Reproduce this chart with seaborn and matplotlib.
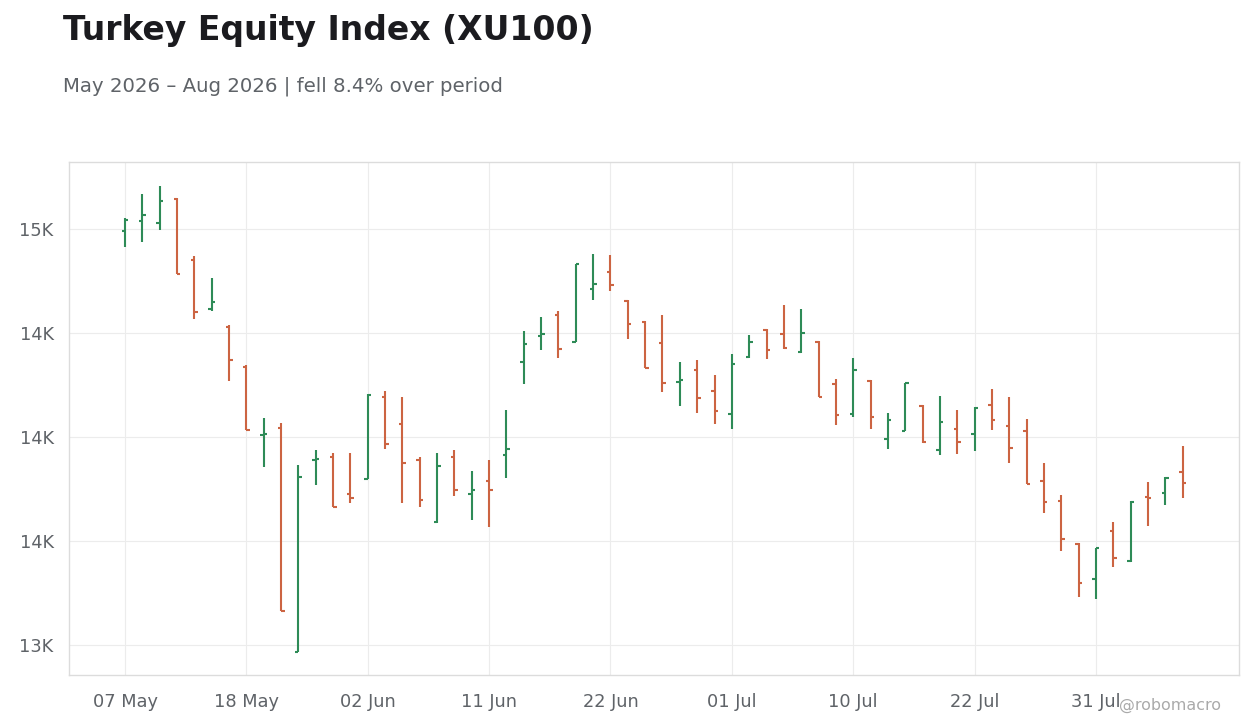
import pandas as pd
import matplotlib
matplotlib.use('Agg')
import matplotlib.pyplot as plt
import matplotlib.ticker as mticker
import seaborn as sns

# trading days shown on the chart
dates = ['2026-05-07', '2026-05-08', '2026-05-11', '2026-05-12', '2026-05-13', '2026-05-14',
         '2026-05-15', '2026-05-18', '2026-05-20', '2026-05-21', '2026-05-22', '2026-05-25',
         '2026-05-26', '2026-06-01', '2026-06-02', '2026-06-03', '2026-06-04', '2026-06-05',
         '2026-06-08', '2026-06-09', '2026-06-10', '2026-06-11', '2026-06-12', '2026-06-15',
         '2026-06-16', '2026-06-17', '2026-06-18', '2026-06-19', '2026-06-22', '2026-06-23',
         '2026-06-24', '2026-06-25', '2026-06-26', '2026-06-29', '2026-06-30', '2026-07-01',
         '2026-07-02', '2026-07-03', '2026-07-06', '2026-07-07', '2026-07-08', '2026-07-09',
         '2026-07-10', '2026-07-13', '2026-07-14', '2026-07-16', '2026-07-17', '2026-07-20',
         '2026-07-21', '2026-07-22', '2026-07-23', '2026-07-24', '2026-07-27', '2026-07-28',
         '2026-07-29', '2026-07-30', '2026-07-31', '2026-08-03', '2026-08-04', '2026-08-05',
         '2026-08-06', '2026-08-07']

opens = [14992, 15040, 15030, 15144, 14853, 14615, 14530, 14337, 14010, 14045,
         12966, 13889, 13905, 13727, 13798, 14194, 14062, 13889, 13591, 13905,
         13726, 13790, 13913, 14362, 14486, 14588, 14457, 14712, 14793, 14654,
         14554, 14453, 14266, 14324, 14223, 14111, 14385, 14514, 14497, 14410,
         14458, 14256, 14112, 14271, 13992, 14030, 14150, 13937, 14040, 14016,
         14155, 14053, 14030, 13790, 13694, 13487, 13316, 13546, 13402, 13713,
         13732, 13830]
highs = [15051, 15168, 15207, 15148, 14869, 14764, 14538, 14345, 14091, 14066,
         13865, 13937, 13922, 13922, 14205, 14221, 14191, 13902, 13922, 13937,
         13837, 13889, 14130, 14510, 14577, 14606, 14833, 14880, 14875, 14657,
         14556, 14587, 14361, 14370, 14298, 14399, 14490, 14518, 14635, 14615,
         14460, 14279, 14380, 14273, 14115, 14260, 14152, 14197, 14130, 14143,
         14231, 14192, 14087, 13876, 13722, 13491, 13467, 13592, 13691, 13783,
         13807, 13956]
lows = [14915, 14939, 14995, 14782, 14569, 14607, 14271, 14034, 13857, 13165,
        12966, 13769, 13662, 13681, 13798, 13944, 13685, 13665, 13585, 13718,
        13601, 13569, 13804, 14256, 14418, 14381, 14457, 14659, 14703, 14471,
        14332, 14218, 14150, 14117, 14064, 14037, 14381, 14375, 14422, 14402,
        14191, 14059, 14098, 14037, 13944, 14027, 13970, 13915, 13920, 13934,
        14035, 13876, 13774, 13636, 13453, 13231, 13221, 13376, 13400, 13570,
        13671, 13705]
closes = [15043, 15069, 15136, 14784, 14602, 14650, 14370, 14034, 14016, 13165,
          13809, 13896, 13665, 13708, 14203, 13966, 13876, 13697, 13862, 13745,
          13745, 13745, 13944, 14449, 14497, 14425, 14832, 14736, 14731, 14545,
          14332, 14261, 14276, 14189, 14126, 14352, 14458, 14420, 14430, 14501,
          14191, 14107, 14324, 14098, 14083, 14258, 13977, 14074, 13977, 14141,
          14083, 13949, 13774, 13689, 13508, 13296, 13465, 13417, 13689, 13708,
          13802, 13780]

df = pd.DataFrame({'date': pd.to_datetime(dates), 'open': opens, 'high': highs,
                   'low': lows, 'close': closes})
df['idx'] = range(len(df))
df['dir'] = ['up' if c >= o else 'down' for o, c in zip(df['open'], df['close'])]

# every bar is three little segments: high-low, open tick, close tick
tw = 0.2
rows = []
for r in df.itertuples():
    k = r.idx * 3
    rows += [(k, r.idx, r.low, r.dir), (k, r.idx, r.high, r.dir),
             (k + 1, r.idx - tw, r.open, r.dir), (k + 1, r.idx, r.open, r.dir),
             (k + 2, r.idx, r.close, r.dir), (k + 2, r.idx + tw, r.close, r.dir)]
seg = pd.DataFrame(rows, columns=['seg', 'x', 'y', 'dir'])

sns.set_theme(style='whitegrid')
plt.rcParams['font.family'] = ['DejaVu Sans']

fig = plt.figure(figsize=(12.6, 7.28), dpi=100)
ax = fig.add_axes([69 / 1260, 1 - 675 / 728, (1239 - 69) / 1260, (675 - 162) / 728])

sns.lineplot(data=seg, x='x', y='y', units='seg', hue='dir', estimator=None, sort=False,
             palette={'up': '#2e8b57', 'down': '#cc6442'}, linewidth=1.5,
             legend=False, ax=ax)
for ln in ax.lines:
    ln.set_solid_capstyle('butt')

ax.set_xlim(-3.23, 64.25)
ax.set_ylim(12856, 15322)
ax.set_xlabel('')
ax.set_ylabel('')

tick_pos = list(range(0, len(df), 7))
ax.set_xticks(tick_pos)
ax.set_xticklabels([df['date'][i].strftime('%d %b') for i in tick_pos])
ax.yaxis.set_major_locator(mticker.MultipleLocator(500))
ax.yaxis.set_major_formatter(mticker.FuncFormatter(lambda v, p: f'{v / 1000:.0f}K'))

ax.set_facecolor('white')
ax.grid(True, color='#ececec', linewidth=0.8)
for s in ax.spines.values():
    s.set_visible(True)
    s.set_color('#dcdcdc')
    s.set_linewidth(1.0)
ax.tick_params(axis='both', which='major', length=5, width=1, color='#5f6368',
               labelcolor='#5f6368', labelsize=12.8, direction='out')
ax.tick_params(axis='x', pad=8)
ax.tick_params(axis='y', pad=6)

fig.text(63 / 1260, 1 - 40 / 728, 'Turkey Equity Index (XU100)', fontsize=23.8,
         fontweight='bold', color='#1b1b1f', va='baseline', ha='left')
fig.text(63 / 1260, 1 - 92 / 728, 'May 2026 – Aug 2026 | fell 8.4% over period',
         fontsize=14.2, color='#5f6368', va='baseline', ha='left')
fig.text(1221 / 1260, 1 - 710 / 728, '@robomacro', fontsize=11.4, color='#aaaaaa',
         va='baseline', ha='right')

fig.savefig('out.png', dpi=100, facecolor='white')
